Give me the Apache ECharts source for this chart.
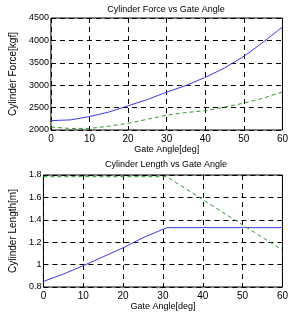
<!DOCTYPE html>
<html>
<head>
<meta charset="utf-8">
<script src="https://cdn.jsdelivr.net/npm/echarts@6/dist/echarts.min.js"></script>
<style>
  html, body { margin: 0; padding: 0; background: #fff; }
  #chart { width: 291px; height: 317px; }
</style>
</head>
<body>
<div id="chart"></div>
<script>
// gate angle samples [deg]
const angles = [0, 5, 10, 15, 20, 25, 30, 35, 40, 45, 50, 55, 60];
// cylinder force [kgf]
const forceBlue = [2210, 2225, 2300, 2400, 2540, 2680, 2845, 2995, 3175, 3385, 3645, 3960, 4300];
const forceGreen = [2065, 2035, 2035, 2085, 2150, 2240, 2330, 2390, 2430, 2510, 2600, 2710, 2850];

// cylinder length [m]
const lengthAngles = [0, 5, 10, 15, 20, 25, 31, 40, 50, 60];
const lengthBlue = [0.85, 0.915, 0.99, 1.07, 1.15, 1.24, 1.33, 1.33, 1.33, 1.33];
const lengthGreen = [1.785, 1.785, 1.785, 1.785, 1.785, 1.785, 1.785, 1.58, 1.355, 1.13];

const forceTicks = [2000, 4500, 500];
const lengthTicks = [0.8, 1.8, 0.2];

const font = 'Liberation Sans Narrow, Liberation Sans, sans-serif';

function pairs(xs, ys) {
    return xs.map((x, i) => [x, ys[i]]);
}

function xAxisOf(gridIndex) {
    return {
        type: 'value', gridIndex: gridIndex, min: 0, max: 60, interval: 10,
        name: 'Gate Angle[deg]', nameLocation: 'middle', nameGap: 15,
        nameTextStyle: { fontFamily: font, fontSize: 9, color: '#000' },
        axisLine: { show: false },
        axisTick: { show: false },
        axisLabel: { color: '#000', fontFamily: font, fontSize: 10, margin: 4 },
        splitLine: { show: true, lineStyle: { color: '#000', type: [5, 4], width: 1 } }
    };
}

function yAxisOf(gridIndex, name, ticks, fmt) {
    return {
        type: 'value', gridIndex: gridIndex, min: ticks[0], max: ticks[1], interval: ticks[2],
        name: name, nameLocation: 'middle', nameGap: 23,
        nameTextStyle: { fontFamily: font, fontSize: 10, color: '#000' },
        axisLine: { show: false },
        axisTick: { show: false },
        axisLabel: { color: '#000', fontFamily: font, fontSize: 9, margin: 2, formatter: fmt },
        splitLine: { show: true, lineStyle: { color: '#000', type: [5, 4], width: 1 } }
    };
}

function lineOf(xi, data, color, dashed) {
    return {
        type: 'line', xAxisIndex: xi, yAxisIndex: xi, data: data,
        showSymbol: false, smooth: false, silent: true,
        lineStyle: { color: color, width: 1, type: dashed ? [4, 3] : 'solid' }
    };
}

const chart = echarts.init(document.getElementById('chart'));
chart.setOption({
    animation: false,
    backgroundColor: '#fff',
    title: [
        { text: 'Cylinder Force vs Gate Angle', left: 161, top: 0, textAlign: 'center',
          textStyle: { fontFamily: font, fontSize: 9, fontWeight: 'normal', color: '#000' } },
        { text: 'Cylinder Length vs Gate Angle', left: 161, top: 155, textAlign: 'center',
          textStyle: { fontFamily: font, fontSize: 9, fontWeight: 'normal', color: '#000' } }
    ],
    grid: [
        { left: 35, right: 3, top: 18, height: 112, show: true, borderColor: '#000', borderWidth: 1 },
        { left: 35, right: 3, top: 175, height: 112, show: true, borderColor: '#000', borderWidth: 1 }
    ],
    xAxis: [xAxisOf(0), xAxisOf(1)],
    yAxis: [
        yAxisOf(0, 'Cylinder Force[kgf]', forceTicks, v => String(v)),
        yAxisOf(1, 'Cylinder Length[m]', lengthTicks, v => String(Math.round(v * 10) / 10))
    ],
    series: [
        lineOf(0, pairs(angles, forceBlue), '#3a3ae6', false),
        lineOf(0, pairs(angles, forceGreen), '#2e9a2e', true),
        lineOf(1, pairs(lengthAngles, lengthBlue), '#3a3ae6', false),
        lineOf(1, pairs(lengthAngles, lengthGreen), '#2e9a2e', true)
    ]
});
</script>
</body>
</html>
